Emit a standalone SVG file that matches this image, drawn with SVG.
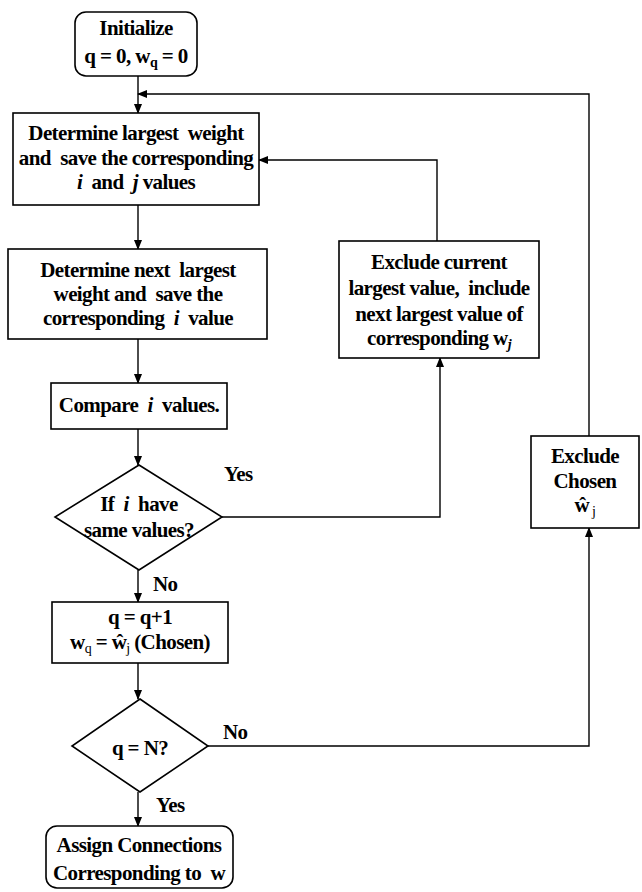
<svg xmlns="http://www.w3.org/2000/svg" width="642" height="892" viewBox="0 0 642 892">
<defs>
<marker id="ah" markerWidth="10" markerHeight="8" refX="9" refY="4" orient="auto" markerUnits="userSpaceOnUse">
<path d="M0,0 L10,4 L0,8 Z" fill="#000"/>
</marker>
<style>
.box{fill:#fff;stroke:#000;stroke-width:1.6}
.ln{fill:none;stroke:#000;stroke-width:1.4}
text{font-family:"Liberation Serif","Times New Roman",serif;font-weight:bold;font-size:21px;fill:#000;text-anchor:middle;letter-spacing:-0.6px}
.it{font-style:italic}
.sub{font-weight:normal;font-size:14px}
.lbl{text-anchor:start}
</style>
</defs>
<rect width="642" height="892" fill="#fff"/>
<g id="connectors">
<path class="ln" d="M138,76 V113" marker-end="url(#ah)"/>
<path class="ln" d="M138,205 V249" marker-end="url(#ah)"/>
<path class="ln" d="M138,339 V383" marker-end="url(#ah)"/>
<path class="ln" d="M138,429 V465" marker-end="url(#ah)"/>
<path class="ln" d="M222,517 H440 V358" marker-end="url(#ah)"/>
<path class="ln" d="M437,241 V160 H259" marker-end="url(#ah)"/>
<path class="ln" d="M138,570 V602" marker-end="url(#ah)"/>
<path class="ln" d="M138,663 V699" marker-end="url(#ah)"/>
<path class="ln" d="M208,746 H589 V528" marker-end="url(#ah)"/>
<path class="ln" d="M589,436 V94 H138" marker-end="url(#ah)"/>
<path class="ln" d="M138,792 V826" marker-end="url(#ah)"/>
<text class="lbl" x="224" y="481">Yes</text>
<text class="lbl" x="153" y="591">No</text>
<text class="lbl" x="223" y="739">No</text>
<text class="lbl" x="156" y="812">Yes</text>
</g>
<g id="init">
<rect class="box" x="75" y="12" width="122" height="64" rx="11"/>
<text x="136" y="35">Initialize</text>
<text x="136" y="63">q = 0, w<tspan font-size="14" dy="4">q</tspan><tspan dy="-4"> = 0</tspan></text>
</g>
<g id="largest">
<rect class="box" x="13" y="113" width="246" height="92"/>
<text x="136" y="140" xml:space="preserve">Determine largest  weight</text>
<text x="136" y="165" xml:space="preserve">and  save the corresponding</text>
<text x="136" y="189" xml:space="preserve"><tspan class="it">i</tspan>  and  <tspan class="it">j</tspan> values</text>
</g>
<g id="next">
<rect class="box" x="8" y="249" width="259" height="90"/>
<text x="138" y="277" xml:space="preserve">Determine next  largest</text>
<text x="138" y="301" xml:space="preserve">weight and  save the</text>
<text x="138" y="325" xml:space="preserve">corresponding  <tspan class="it">i</tspan>  value</text>
</g>
<g id="exclude-current">
<rect class="box" x="339" y="241" width="200" height="117"/>
<text x="439" y="269">Exclude current</text>
<text x="439" y="295" xml:space="preserve">largest value,  include</text>
<text x="439" y="321">next largest value of</text>
<text x="439" y="345">corresponding w<tspan class="it" font-size="14" dy="4">j</tspan></text>
</g>
<g id="compare">
<rect class="box" x="51" y="383" width="176" height="46"/>
<text x="139" y="412" xml:space="preserve">Compare  <tspan class="it">i</tspan>  values.</text>
</g>
<g id="same">
<polygon class="box" points="139,465 222,517 139,570 55,517"/>
<text x="139" y="511" xml:space="preserve">If  <tspan class="it">i</tspan>  have</text>
<text x="139" y="537">same values?</text>
</g>
<g id="update">
<rect class="box" x="52" y="602" width="176" height="61"/>
<text x="140" y="624">q = q+1</text>
<text x="140" y="649">w<tspan class="sub" dy="4">q</tspan><tspan dy="-4"> = ŵ</tspan><tspan class="sub" dy="4">j</tspan><tspan dy="-4"> (Chosen)</tspan></text>
</g>
<g id="exclude-chosen">
<rect class="box" x="531" y="436" width="108" height="92"/>
<text x="585" y="463">Exclude</text>
<text x="585" y="488">Chosen</text>
<text x="585" y="512">ŵ<tspan class="sub" dy="4"> j</tspan></text>
</g>
<g id="done">
<polygon class="box" points="140,699 208,746 140,792 72,746"/>
<text x="140" y="755">q = N?</text>
</g>
<g id="assign">
<rect class="box" x="46" y="826" width="187" height="62" rx="11"/>
<text x="139" y="852">Assign Connections</text>
<text x="139" y="880" xml:space="preserve">Corresponding to  w</text>
</g>
</svg>
